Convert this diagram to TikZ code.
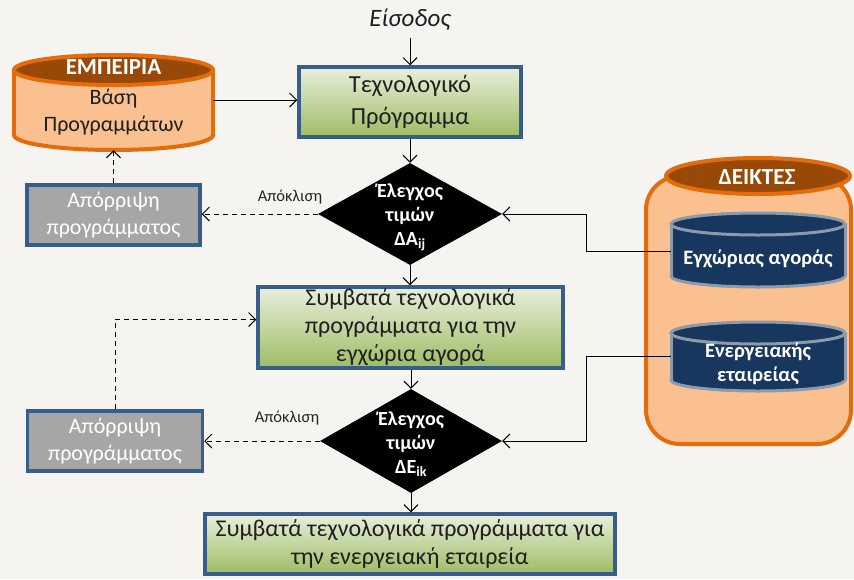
\documentclass[tikz,border=0pt]{standalone}
\usepackage{fontspec}
\setmainfont{Carlito}
\usetikzlibrary{arrows.meta,shapes.geometric}

\definecolor{bg}{RGB}{245,244,240}
\definecolor{boxblue}{RGB}{56,93,138}
\definecolor{greentop}{RGB}{232,239,220}
\definecolor{greenbot}{RGB}{158,188,100}
\definecolor{rejgray}{RGB}{166,166,166}
\definecolor{orng}{RGB}{228,108,10}
\definecolor{peach}{RGB}{250,192,144}
\definecolor{darkbrown}{RGB}{152,72,7}
\definecolor{navy}{RGB}{23,55,94}
\definecolor{rimgray}{RGB}{140,154,172}

% drum: cx, rx, y of top ellipse, y of bottom ellipse, ry, body fill, top fill, rim style
\newcommand{\drum}[8]{%
  \fill[#6] (#1-#2,#3) rectangle (#1+#2,#4);
  \fill[#6] (#1,#4) ellipse[x radius=#2pt, y radius=#5pt];
  \begin{scope}
    \clip (#1-#2-8,#4) rectangle (#1+#2+8,#4+#5+8);
    \draw[#8] (#1,#4) ellipse[x radius=#2pt, y radius=#5pt];
  \end{scope}
  \draw[#8] (#1-#2,#3) -- (#1-#2,#4) (#1+#2,#3) -- (#1+#2,#4);
  \filldraw[#8, fill=#7] (#1,#3) ellipse[x radius=#2pt, y radius=#5pt];
}

\tikzset{
  progbox/.style={draw=boxblue, line width=3.5pt, top color=greentop, bottom color=greenbot,
    align=center, inner sep=0pt, text=black!88, font=\fontsize{24}{28}\selectfont},
  rejbox/.style={draw=boxblue, line width=3.5pt, fill=rejgray, text=white, align=center,
    inner sep=0pt, font=\fontsize{22}{27}\selectfont},
  decision/.style={diamond, fill=black, inner sep=0pt},
  dectext/.style={text=white, align=center, font=\bfseries\fontsize{20}{24}\selectfont},
  flow/.style={-{Straight Barb[length=7pt,width=14pt]}, line width=1pt, black},
  reject/.style={flow, dash pattern=on 5pt off 4pt},
  devlabel/.style={font=\fontsize{16.5}{18}\selectfont, text=black!85},
  whitehead/.style={text=white, font=\bfseries\fontsize{23}{26}\selectfont},
  drumtext/.style={text=white, align=center, font=\bfseries\fontsize{20.5}{24}\selectfont},
}

\begin{document}
\begin{tikzpicture}[x=1pt,y=-1pt]
  \useasboundingbox (0,0) rectangle (854,579);
  \fill[bg] (0,0) rectangle (854,579);

  % ---- experience database (cylinder)
  \drum{113.5}{99.5}{70}{135}{15}{peach}{darkbrown}{orng, line width=4pt}
  \node[inner sep=0pt, minimum width=199pt, minimum height=95pt] (emp) at (113.5,102.5) {};
  \node[whitehead] (emptitle) at (113.5,67) {ΕΜΠΕΙΡΙΑ};
  \node[align=center, text=black!88, font=\fontsize{22}{27}\selectfont] (embody) at (113.5,112) {Βάση\\Προγραμμάτων};

  % ---- indicators container
  \filldraw[fill=peach, draw=orng, line width=4pt, rounded corners=34pt] (646,176) rectangle (851,444);
  \node[inner sep=0pt, minimum width=205pt, minimum height=268pt] (ind) at (748.5,310) {};
  \filldraw[fill=darkbrown, draw=orng, line width=4pt] (758,176) ellipse[x radius=92pt, y radius=18pt];
  \node[whitehead] (indtitle) at (757,177) {ΔΕΙΚΤΕΣ};

  \drum{758}{87}{224}{276}{11}{navy}{navy}{rimgray, line width=3pt}
  \node[inner sep=0pt, minimum width=174pt, minimum height=76pt] (c1) at (758,251) {};
  \node[drumtext] (c1text) at (758,259) {Εγχώριας αγοράς};

  \drum{758}{87}{333}{380}{11}{navy}{navy}{rimgray, line width=3pt}
  \node[inner sep=0pt, minimum width=174pt, minimum height=69pt] (c2) at (758,356.5) {};
  \node[drumtext] (c2text) at (758,364) {Ενεργειακής\\εταιρείας};

  % ---- main flow
  \node[font=\itshape\fontsize{25}{30}\selectfont, text=black!88, inner sep=7pt] (in) at (410,20) {Είσοδος};
  \node[progbox, font=\fontsize{24.5}{32}\selectfont, minimum width=222pt, minimum height=70pt] (box1) at (410,102) {Τεχνολογικό\\Πρόγραμμα};

  \node[decision, minimum width=184pt, minimum height=102pt] (d1) at (410,214) {};
  \node[dectext] (d1text) at (410,217) {Έλεγχος\\τιμών\\ΔA\textsubscript{ij}};

  \node[progbox, minimum width=305pt, minimum height=81pt] (box2) at (410.5,327.5)
    {Συμβατά τεχνολογικά\\προγράμματα για την\\εγχώρια αγορά};

  \node[decision, minimum width=182pt, minimum height=104pt] (d2) at (411,441) {};
  \node[dectext] (d2text) at (411,444) {Έλεγχος\\τιμών\\ΔE\textsubscript{ik}};

  \node[progbox, minimum width=410pt, minimum height=60pt] (box3) at (410,544)
    {Συμβατά τεχνολογικά προγράμματα για\\την ενεργειακή εταιρεία};

  % ---- rejection boxes
  \node[rejbox, minimum width=173pt, minimum height=60pt] (rej1) at (113.5,215) {Απόρριψη\\προγράμματος};
  \node[rejbox, minimum width=175pt, minimum height=60pt] (rej2) at (115,441) {Απόρριψη\\προγράμματος};

  % ---- connectors
  \draw[flow] (in.south) -- (box1.north);
  \draw[flow] ([yshift=2pt]box1.west -| emp.east) -- ([yshift=2pt]box1.west);
  \draw[flow] (box1.south) -- (d1.north);
  \draw[flow] (d1.south) -- (box2.north -| d1.south);
  \draw[flow] (box2.south -| d2.north) -- (d2.north);
  \draw[flow] (d2.south) -- (box3.north -| d2.south);

  \draw[reject] (d1.west) -- (d1.west -| rej1.east);
  \node[devlabel] (dev1) at (290,197) {Απόκλιση};
  \draw[reject] (rej1.north) -- (emp.south);

  \draw[reject] (d2.west) -- (d2.west -| rej2.east);
  \node[devlabel] (dev2) at (287,418) {Απόκλιση};
  \draw[reject] (rej2.north) |- ([yshift=8pt]box2.west);

  \draw[flow] (c1.west) -- ++(-84,0) |- (d1.east);
  \draw[flow] (c2.west) -- ++(-84,0) |- (d2.east);
\end{tikzpicture}
\end{document}
